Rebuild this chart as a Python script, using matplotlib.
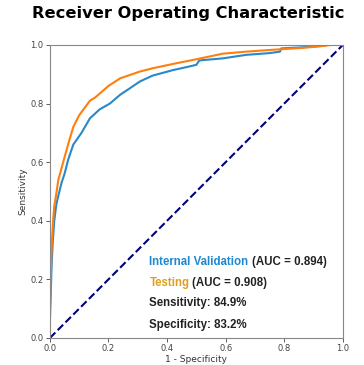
import numpy as np
import matplotlib
matplotlib.use('Agg')
import matplotlib.pyplot as plt

# ROC 곡선 값
val_fpr = [0, 0, 0.003, 0.006, 0.01, 0.015, 0.02, 0.023, 0.03, 0.04, 0.05, 0.063, 0.08, 0.108,
           0.137, 0.17, 0.205, 0.24, 0.27, 0.307, 0.35, 0.42, 0.47, 0.50, 0.51, 0.59, 0.67,
           0.75, 0.785, 0.79, 0.865, 0.92, 0.95, 1.0]
val_tpr = [0, 0.05, 0.15, 0.25, 0.33, 0.40, 0.44, 0.46, 0.49, 0.53, 0.56, 0.61, 0.66, 0.70,
           0.75, 0.78, 0.80, 0.83, 0.85, 0.875, 0.895, 0.914, 0.925, 0.932, 0.947, 0.954, 0.966,
           0.972, 0.977, 0.988, 0.992, 0.996, 1.0, 1.0]

test_fpr = [0, 0, 0.003, 0.007, 0.011, 0.015, 0.02, 0.029, 0.04, 0.051, 0.065, 0.08, 0.1, 0.137,
            0.154, 0.2, 0.24, 0.307, 0.35, 0.42, 0.5, 0.59, 0.67, 0.785, 0.865, 0.92, 0.96, 1.0]
test_tpr = [0, 0.1, 0.22, 0.33, 0.40, 0.45, 0.48, 0.54, 0.58, 0.62, 0.67, 0.72, 0.76, 0.81,
            0.82, 0.86, 0.886, 0.909, 0.92, 0.935, 0.951, 0.97, 0.977, 0.985, 0.99, 0.995, 1.0, 1.0]

val_auc = 0.894
test_auc = 0.908
sensitivity = 84.9
specificity = 83.2

fig = plt.figure(figsize=(3.64, 3.65), dpi=100)
ax = fig.add_axes([0.137, 0.074, 0.805, 0.803])

ax.plot(val_fpr, val_tpr, color='#2b88c8', lw=1.5)
ax.plot(test_fpr, test_tpr, color='#ff7f0e', lw=1.5)
ax.plot([0, 1], [0, 1], color='navy', lw=1.5, linestyle='--')

ax.set_xlim(0, 1)
ax.set_ylim(0, 1)
ax.set_xticks(np.arange(0, 1.01, 0.2))
ax.set_yticks(np.arange(0, 1.01, 0.2))
ax.tick_params(labelsize=6, colors='#444444', length=3, width=0.6, pad=1.5)
for s in ax.spines.values():
    s.set_color('#888888')
    s.set_linewidth(0.8)
ax.set_xlabel('1 - Specificity', fontsize=6.5, color='#333333', labelpad=1)
ax.set_ylabel('Sensitivity', fontsize=6.5, color='#333333', labelpad=2)

fig.text(0.517, 0.964, 'Receiver Operating Characteristic', ha='center', va='center',
         fontsize=11.7, fontweight='bold')

# 주석 텍스트
fp = dict(family='Liberation Sans', fontweight='bold', fontsize=8.3, transform=ax.transAxes,
          va='center')
t = ax.text(0.34, 0.260, 'Internal Validation', color='#1f88d0', **fp)
fig.canvas.draw()
bb = t.get_window_extent().transformed(ax.transAxes.inverted())
ax.text(bb.x1 + 0.01, 0.260, '(AUC = %.3f)' % val_auc, color='#222222', **fp)
t2 = ax.text(0.34, 0.189, 'Testing', color='#dca020', **fp)
fig.canvas.draw()
bb2 = t2.get_window_extent().transformed(ax.transAxes.inverted())
ax.text(bb2.x1 + 0.01, 0.189, '(AUC = %.3f)' % test_auc, color='#222222', **fp)
ax.text(0.34, 0.118, 'Sensitivity: %.1f%%' % sensitivity, color='#222222', **fp)
ax.text(0.34, 0.044, 'Specificity: %.1f%%' % specificity, color='#222222', **fp)

plt.savefig('out.png', dpi=100)
plt.close()
